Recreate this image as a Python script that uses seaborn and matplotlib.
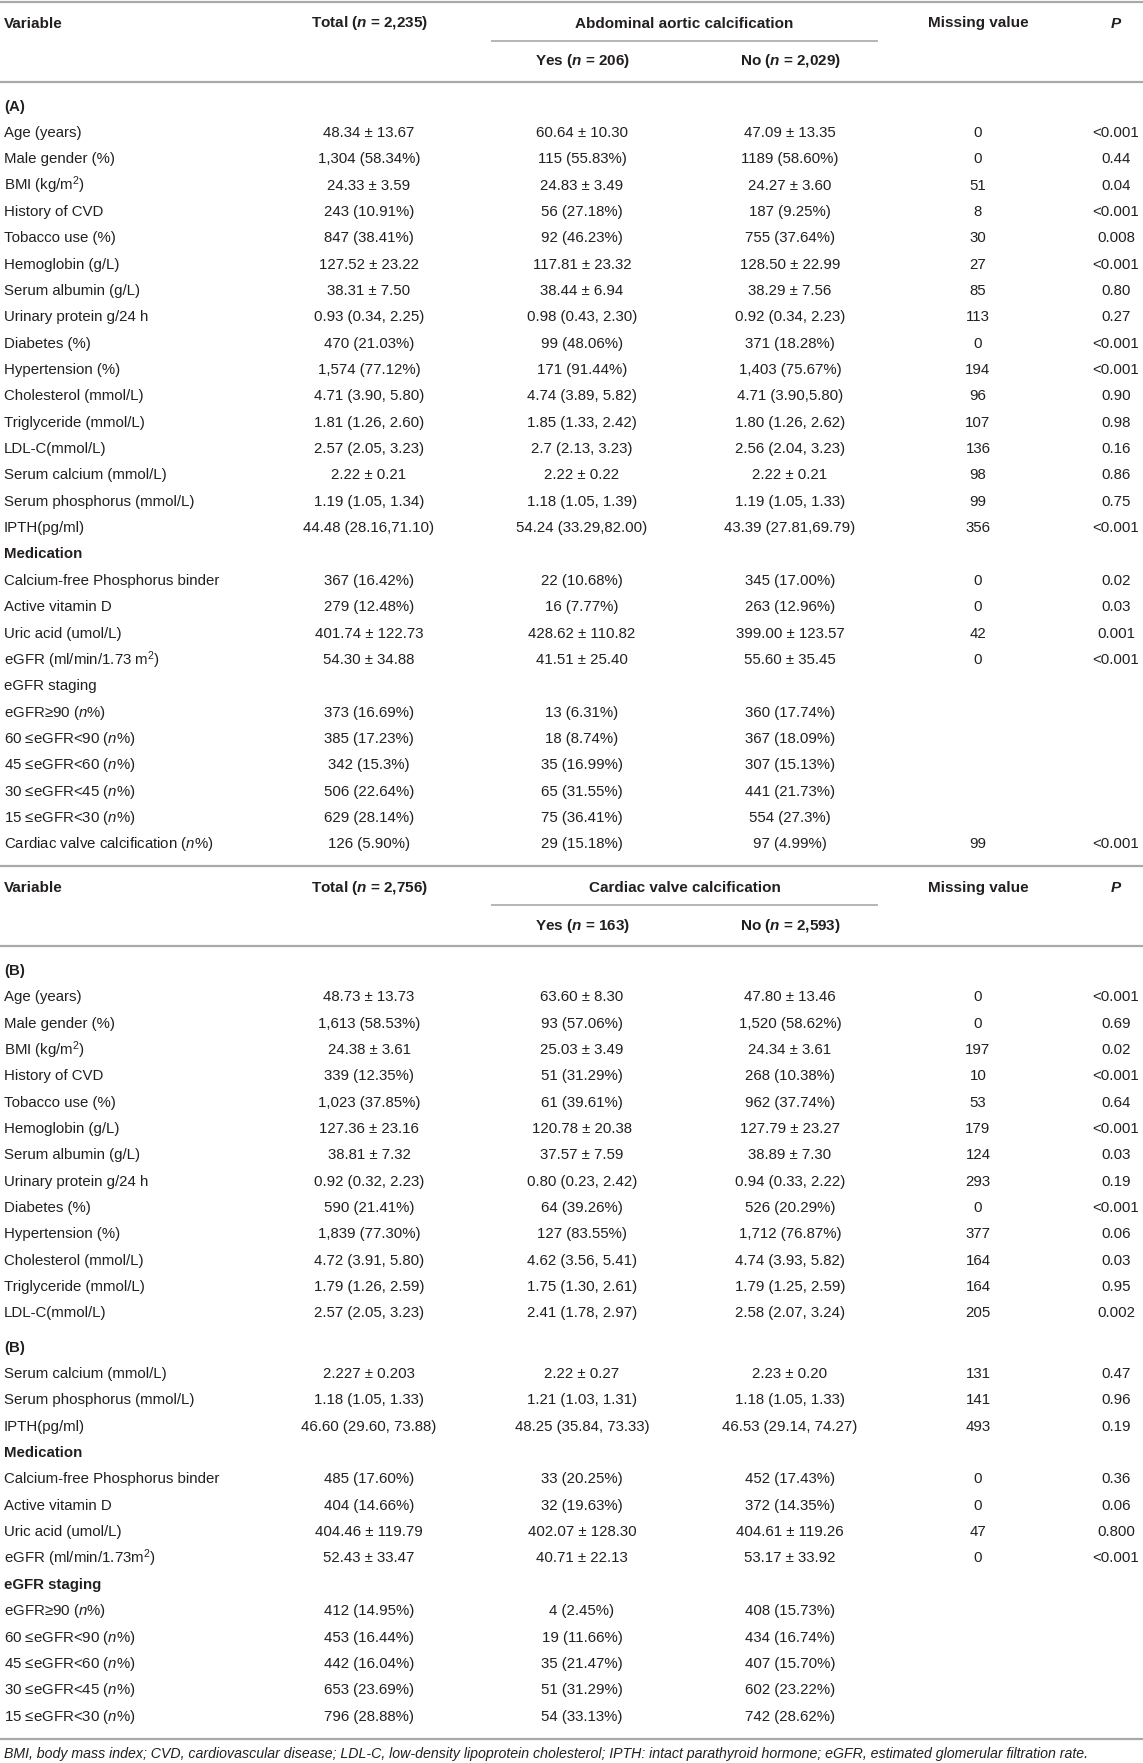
import matplotlib
matplotlib.use("Agg")
import matplotlib.pyplot as plt
import seaborn as sns
import pandas as pd

# ---- data: panel A (abdominal aortic calcification) ----
a_labels = ["(A)", "Age (years)", "Male gender (%)", "BMI (kg/m$^2$)", "History of CVD",
            "Tobacco use (%)", "Hemoglobin (g/L)", "Serum albumin (g/L)", "Urinary protein g/24 h",
            "Diabetes (%)", "Hypertension (%)", "Cholesterol (mmol/L)", "Triglyceride (mmol/L)",
            "LDL-C(mmol/L)", "Serum calcium (mmol/L)", "Serum phosphorus (mmol/L)", "IPTH(pg/ml)",
            "Medication", "Calcium-free Phosphorus binder", "Active vitamin D", "Uric acid (umol/L)",
            "eGFR (ml/min/1.73 m$^2$)", "eGFR staging", "eGFR≥90 ($\\mathit{n}$%)",
            "60 ≤eGFR<90 ($\\mathit{n}$%)", "45 ≤eGFR<60 ($\\mathit{n}$%)", "30 ≤eGFR<45 ($\\mathit{n}$%)",
            "15 ≤eGFR<30 ($\\mathit{n}$%)", "Cardiac valve calcification ($\\mathit{n}$%)"]
a_total = ["", "48.34 ± 13.67", "1,304 (58.34%)", "24.33 ± 3.59", "243 (10.91%)", "847 (38.41%)",
           "127.52 ± 23.22", "38.31 ± 7.50", "0.93 (0.34, 2.25)", "470 (21.03%)", "1,574 (77.12%)",
           "4.71 (3.90, 5.80)", "1.81 (1.26, 2.60)", "2.57 (2.05, 3.23)", "2.22 ± 0.21",
           "1.19 (1.05, 1.34)", "44.48 (28.16,71.10)", "", "367 (16.42%)", "279 (12.48%)",
           "401.74 ± 122.73", "54.30 ± 34.88", "", "373 (16.69%)", "385 (17.23%)", "342 (15.3%)",
           "506 (22.64%)", "629 (28.14%)", "126 (5.90%)"]
a_yes = ["", "60.64 ± 10.30", "115 (55.83%)", "24.83 ± 3.49", "56 (27.18%)", "92 (46.23%)",
         "117.81 ± 23.32", "38.44 ± 6.94", "0.98 (0.43, 2.30)", "99 (48.06%)", "171 (91.44%)",
         "4.74 (3.89, 5.82)", "1.85 (1.33, 2.42)", "2.7 (2.13, 3.23)", "2.22 ± 0.22",
         "1.18 (1.05, 1.39)", "54.24 (33.29,82.00)", "", "22 (10.68%)", "16 (7.77%)",
         "428.62 ± 110.82", "41.51 ± 25.40", "", "13 (6.31%)", "18 (8.74%)", "35 (16.99%)",
         "65 (31.55%)", "75 (36.41%)", "29 (15.18%)"]
a_no = ["", "47.09 ± 13.35", "1189 (58.60%)", "24.27 ± 3.60", "187 (9.25%)", "755 (37.64%)",
        "128.50 ± 22.99", "38.29 ± 7.56", "0.92 (0.34, 2.23)", "371 (18.28%)", "1,403 (75.67%)",
        "4.71 (3.90,5.80)", "1.80 (1.26, 2.62)", "2.56 (2.04, 3.23)", "2.22 ± 0.21",
        "1.19 (1.05, 1.33)", "43.39 (27.81,69.79)", "", "345 (17.00%)", "263 (12.96%)",
        "399.00 ± 123.57", "55.60 ± 35.45", "", "360 (17.74%)", "367 (18.09%)", "307 (15.13%)",
        "441 (21.73%)", "554 (27.3%)", "97 (4.99%)"]
a_missing = ["", "0", "0", "51", "8", "30", "27", "85", "113", "0", "194", "96", "107", "136",
             "98", "99", "356", "", "0", "0", "42", "0", "", "", "", "", "", "", "99"]
a_p = ["", "<0.001", "0.44", "0.04", "<0.001", "0.008", "<0.001", "0.80", "0.27", "<0.001",
       "<0.001", "0.90", "0.98", "0.16", "0.86", "0.75", "<0.001", "", "0.02", "0.03", "0.001",
       "<0.001", "", "", "", "", "", "", "<0.001"]

# ---- data: panel B (cardiac valve calcification) ----
b_labels = ["(B)", "Age (years)", "Male gender (%)", "BMI (kg/m$^2$)", "History of CVD",
            "Tobacco use (%)", "Hemoglobin (g/L)", "Serum albumin (g/L)", "Urinary protein g/24 h",
            "Diabetes (%)", "Hypertension (%)", "Cholesterol (mmol/L)", "Triglyceride (mmol/L)",
            "LDL-C(mmol/L)", "(B)", "Serum calcium (mmol/L)", "Serum phosphorus (mmol/L)",
            "IPTH(pg/ml)", "Medication", "Calcium-free Phosphorus binder", "Active vitamin D",
            "Uric acid (umol/L)", "eGFR (ml/min/1.73m$^2$)", "eGFR staging",
            "eGFR≥90 ($\\mathit{n}$%)", "60 ≤eGFR<90 ($\\mathit{n}$%)", "45 ≤eGFR<60 ($\\mathit{n}$%)",
            "30 ≤eGFR<45 ($\\mathit{n}$%)", "15 ≤eGFR<30 ($\\mathit{n}$%)"]
b_total = ["", "48.73 ± 13.73", "1,613 (58.53%)", "24.38 ± 3.61", "339 (12.35%)", "1,023 (37.85%)",
           "127.36 ± 23.16", "38.81 ± 7.32", "0.92 (0.32, 2.23)", "590 (21.41%)", "1,839 (77.30%)",
           "4.72 (3.91, 5.80)", "1.79 (1.26, 2.59)", "2.57 (2.05, 3.23)", "", "2.227 ± 0.203",
           "1.18 (1.05, 1.33)", "46.60 (29.60, 73.88)", "", "485 (17.60%)", "404 (14.66%)",
           "404.46 ± 119.79", "52.43 ± 33.47", "", "412 (14.95%)", "453 (16.44%)", "442 (16.04%)",
           "653 (23.69%)", "796 (28.88%)"]
b_yes = ["", "63.60 ± 8.30", "93 (57.06%)", "25.03 ± 3.49", "51 (31.29%)", "61 (39.61%)",
         "120.78 ± 20.38", "37.57 ± 7.59", "0.80 (0.23, 2.42)", "64 (39.26%)", "127 (83.55%)",
         "4.62 (3.56, 5.41)", "1.75 (1.30, 2.61)", "2.41 (1.78, 2.97)", "", "2.22 ± 0.27",
         "1.21 (1.03, 1.31)", "48.25 (35.84, 73.33)", "", "33 (20.25%)", "32 (19.63%)",
         "402.07 ± 128.30", "40.71 ± 22.13", "", "4 (2.45%)", "19 (11.66%)", "35 (21.47%)",
         "51 (31.29%)", "54 (33.13%)"]
b_no = ["", "47.80 ± 13.46", "1,520 (58.62%)", "24.34 ± 3.61", "268 (10.38%)", "962 (37.74%)",
        "127.79 ± 23.27", "38.89 ± 7.30", "0.94 (0.33, 2.22)", "526 (20.29%)", "1,712 (76.87%)",
        "4.74 (3.93, 5.82)", "1.79 (1.25, 2.59)", "2.58 (2.07, 3.24)", "", "2.23 ± 0.20",
        "1.18 (1.05, 1.33)", "46.53 (29.14, 74.27)", "", "452 (17.43%)", "372 (14.35%)",
        "404.61 ± 119.26", "53.17 ± 33.92", "", "408 (15.73%)", "434 (16.74%)", "407 (15.70%)",
        "602 (23.22%)", "742 (28.62%)"]
b_missing = ["", "0", "0", "197", "10", "53", "179", "124", "293", "0", "377", "164", "164", "205",
             "", "131", "141", "493", "", "0", "0", "47", "0", "", "", "", "", "", ""]
b_p = ["", "<0.001", "0.69", "0.02", "<0.001", "0.64", "<0.001", "0.03", "0.19", "<0.001", "0.06",
       "0.03", "0.95", "0.002", "", "0.47", "0.96", "0.19", "", "0.36", "0.06", "0.800", "<0.001",
       "", "", "", "", "", ""]

a_header = ["Total ($\\mathbfit{n}$ = 2,235)", "Abdominal aortic calcification",
            "Yes ($\\mathbfit{n}$ = 206)", "No ($\\mathbfit{n}$ = 2,029)"]
b_header = ["Total ($\\mathbfit{n}$ = 2,756)", "Cardiac valve calcification",
            "Yes ($\\mathbfit{n}$ = 163)", "No ($\\mathbfit{n}$ = 2,593)"]
footnote = ("BMI, body mass index; CVD, cardiovascular disease; LDL-C, low-density lipoprotein "
            "cholesterol; IPTH: intact parathyroid hormone; eGFR, estimated glomerular filtration rate.")

bold_a = {"(A)", "Medication"}
bold_b = {"(B)", "Medication", "eGFR staging"}

# ---- style ----
sns.set_theme(style="white")
plt.rcParams["font.family"] = ["Liberation Sans", "DejaVu Sans"]
plt.rcParams["mathtext.fontset"] = "custom"
plt.rcParams["mathtext.rm"] = "Liberation Sans"
plt.rcParams["mathtext.it"] = "Liberation Sans:italic"
plt.rcParams["mathtext.bf"] = "Liberation Sans:bold"
plt.rcParams["mathtext.bfit"] = "Liberation Sans:italic:bold"

TXT = "#231f20"
RULE = "#a7a9ac"
W, H = 1143, 1763
PITCH = 26.35
FS = 10.8
HFS = 11.0

# column centres (pixel units of the output image)
col_x = {"label": 4, "total": 369, "yes": 582, "no": 790, "missing": 978, "p": 1116}
group_span = (491, 878)

fig = plt.figure(figsize=(W / 100, H / 100), dpi=100)
ax = fig.add_axes([0, 0, 1, 1])
ax.set_xlim(0, W)
ax.set_ylim(H, 0)
ax.axis("off")


def draw_section(top, header, df, bold_rows):
    ax.hlines(top, 0, W, color=RULE, lw=1.6)
    h1, sub, h2, rule = top + 21.5, top + 38.5, top + 59.5, top + 80
    ax.text(col_x["label"], h1, "Variable", fontsize=HFS, fontweight="bold", color=TXT, va="center")
    ax.text(col_x["total"], h1, header[0], fontsize=HFS, fontweight="bold", color=TXT,
            va="center", ha="center")
    ax.text(sum(group_span) / 2, h1, header[1], fontsize=HFS, fontweight="bold", color=TXT,
            va="center", ha="center")
    ax.text(col_x["missing"], h1, "Missing value", fontsize=HFS, fontweight="bold", color=TXT,
            va="center", ha="center")
    ax.text(col_x["p"], h1, "P", fontsize=HFS, fontweight="bold", fontstyle="italic", color=TXT,
            va="center", ha="center")
    ax.hlines(sub, *group_span, color=RULE, lw=1.2)
    ax.text(col_x["yes"], h2, header[2], fontsize=HFS, fontweight="bold", color=TXT,
            va="center", ha="center")
    ax.text(col_x["no"], h2, header[3], fontsize=HFS, fontweight="bold", color=TXT,
            va="center", ha="center")
    ax.hlines(rule, 0, W, color=RULE, lw=1.6)

    y = rule + 24.5
    for i, row in df.iterrows():
        if i > 0 and row["label"].startswith("("):
            y += 8
        ax.text(col_x["label"], y, row["label"], fontsize=FS, color=TXT, va="center",
                fontweight="bold" if row["label"] in bold_rows else "normal")
        for key in ["total", "yes", "no", "missing", "p"]:
            ax.text(col_x[key], y, row[key], fontsize=FS, color=TXT, va="center", ha="center")
        y += PITCH
    return y - PITCH


df_a = pd.DataFrame({"label": a_labels, "total": a_total, "yes": a_yes, "no": a_no,
                     "missing": a_missing, "p": a_p})
df_b = pd.DataFrame({"label": b_labels, "total": b_total, "yes": b_yes, "no": b_no,
                     "missing": b_missing, "p": b_p})

last_a = draw_section(2, a_header, df_a, bold_a)
last_b = draw_section(last_a + 22, b_header, df_b, bold_b)
ax.hlines(last_b + 22, 0, W, color=RULE, lw=1.6)
ax.text(col_x["label"], last_b + 37, footnote, fontsize=10.2, fontstyle="italic", color=TXT,
        va="center")

fig.savefig("out.png", dpi=100, facecolor="white")
